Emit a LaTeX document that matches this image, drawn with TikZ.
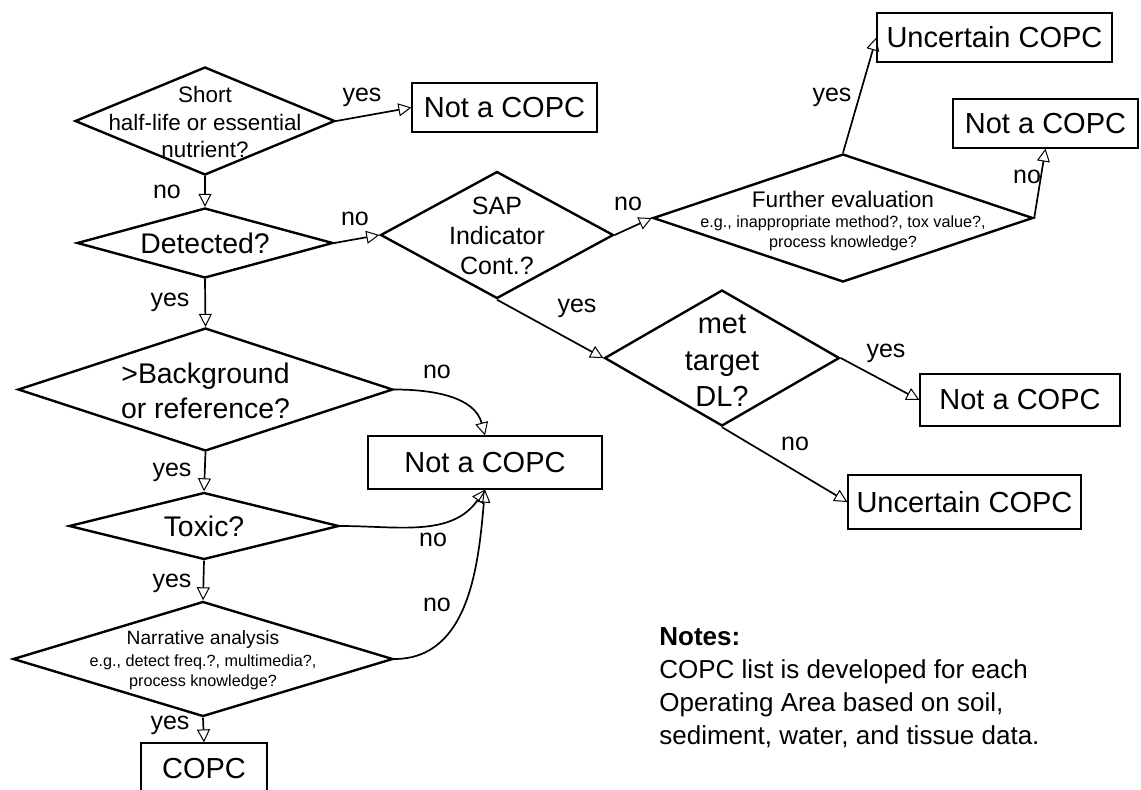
\documentclass[tikz,border=0pt]{standalone}
\usepackage{fontspec}
\setmainfont{Liberation Sans}
\usetikzlibrary{arrows.meta,shapes.geometric}

\begin{document}
\begin{tikzpicture}[x=0.5pt,y=-0.5pt,
	ask/.style={draw,diamond,line width=1.2pt,inner sep=0pt},
	outcome/.style={draw,rectangle,line width=0.6pt,inner sep=0pt,font=\fontsize{14.5}{17}\selectfont},
	flow/.style={-{Triangle[open,length=6.5pt,width=6.5pt,line width=0.5pt]},line width=0.85pt},
	yn/.style={font=\fontsize{12.5}{15}\selectfont},
	small/.style={align=center,font=\fontsize{8.1}{10}\selectfont}]

	\useasboundingbox (0,0) rectangle (1141,789);

		\node[ask,minimum width=130pt,minimum height=54pt] (shortQ) at (205,121) {};
		\node[align=center,font=\fontsize{11.2}{13.75}\selectfont] (shortT) at (205,122) {Short\\half-life or essential\\nutrient?};
		\node[ask,minimum width=128pt,minimum height=35pt] (detQ) at (205,243) {};
		\node[font=\fontsize{14.2}{17}\selectfont] (detT) at (205,243) {Detected?};
		\node[ask,minimum width=187.5pt,minimum height=61.5pt] (bgQ) at (205.5,389.5) {};
		\node[align=center,font=\fontsize{14.2}{17.5}\selectfont] (bgT) at (205.5,391) {>Background\\or reference?};
		\node[ask,minimum width=135pt,minimum height=33.5pt] (toxQ) at (204,526) {};
		\node[font=\fontsize{14.2}{17}\selectfont] (toxT) at (204,526) {Toxic?};
		\node[ask,minimum width=190pt,minimum height=57.5pt] (narQ) at (203,659) {};
		\node[font=\fontsize{9.6}{11}\selectfont] (narT) at (203,640) {Narrative analysis};
		\node[small] (narS) at (203,672) {e.g., detect freq.?, multimedia?,\\process knowledge?};

		\node[ask,minimum width=116.5pt,minimum height=63.5pt] (sapQ) at (497,235) {};
		\node[align=center,font=\fontsize{12.5}{15}\selectfont] (sapT) at (497,236) {SAP\\Indicator\\Cont.?};
		\node[ask,minimum width=190pt,minimum height=64pt] (furQ) at (843,218) {};
		\node[font=\fontsize{11.3}{13}\selectfont] (furT) at (843,199) {Further evaluation};
		\node[small] (furS) at (843,233) {e.g., inappropriate method?, tox value?,\\process knowledge?};
		\node[ask,minimum width=117.5pt,minimum height=68pt] (metQ) at (722,358) {};
		\node[align=center,font=\fontsize{14.5}{18.3}\selectfont] (metT) at (722,361) {met\\target\\DL?};

		\node[outcome,minimum width=92.5pt,minimum height=24.5pt] (notA) at (504.5,107.5) {Not a COPC};
		\node[outcome,minimum width=117pt,minimum height=26.5pt] (notM) at (485,462.5) {Not a COPC};
		\node[outcome,minimum width=63pt,minimum height=26pt] (copc) at (204,769) {COPC};
		\node[outcome,minimum width=117.5pt,minimum height=24.5pt] (uncA) at (994.5,37.5) {Uncertain COPC};
		\node[outcome,minimum width=92.5pt,minimum height=24.5pt] (notB) at (1045.5,123.5) {Not a COPC};
		\node[outcome,minimum width=100pt,minimum height=26pt] (notC) at (1020,400) {Not a COPC};
		\node[outcome,minimum width=116.5pt,minimum height=27pt] (uncB) at (964.5,502) {Uncertain COPC};

	\draw[flow] (shortQ.east) -- (notA.west);
	\draw[flow] (shortQ.south) -- (detQ.north);
	\draw[flow] (detQ.east) -- (sapQ.west);
	\draw[flow] (detQ.south) -- (bgQ.north);
	\draw[flow] (bgQ.east) to[out=0,in=105] (notM.north);
	\draw[flow] (bgQ.south) -- (toxQ.north);
	\draw[flow] (toxQ.east) to[out=0,in=235] (notM.south);
	\draw[flow] (toxQ.south) -- (narQ.north);
	\draw[flow] (narQ.east) to[out=0,in=265] (notM.south);
	\draw[flow] (narQ.south) -- (copc.north);

	\draw[flow] (sapQ.east) -- (furQ.west);
	\draw[flow] (sapQ.south) -- (metQ.west);
	\draw[flow] (furQ.north) -- (uncA.west);
	\draw[flow] (furQ.east) -- (notB.south);
	\draw[flow] (metQ.east) -- (notC.west);
	\draw[flow] (metQ.south) -- (uncB.west);

		\node[yn] (y1) at (362,97) {yes};
		\node[yn] (n1) at (167,192) {no};
		\node[yn] (n2) at (355,219) {no};
		\node[yn] (y2) at (170,302) {yes};
		\node[yn] (n3) at (437,372) {no};
		\node[yn] (y3) at (172,472) {yes};
		\node[yn] (n4) at (433,540) {no};
		\node[yn] (y4) at (172,583) {yes};
		\node[yn] (n5) at (437,605) {no};
		\node[yn] (y5) at (170,725) {yes};
		\node[yn] (n6) at (628,204) {no};
		\node[yn] (y6) at (577,308) {yes};
		\node[yn] (y7) at (832,97) {yes};
		\node[yn] (n7) at (1027,177) {no};
		\node[yn] (y8) at (886,353) {yes};
		\node[yn] (n8) at (795,444) {no};

\node[anchor=north west,align=left,inner sep=0pt,font=\fontsize{13}{16.5}\selectfont] (notes) at (659,627)
	{\textbf{Notes:}\\COPC list is developed for each\\Operating Area based on soil,\\sediment, water, and tissue data.};
	\end{tikzpicture}
\end{document}
